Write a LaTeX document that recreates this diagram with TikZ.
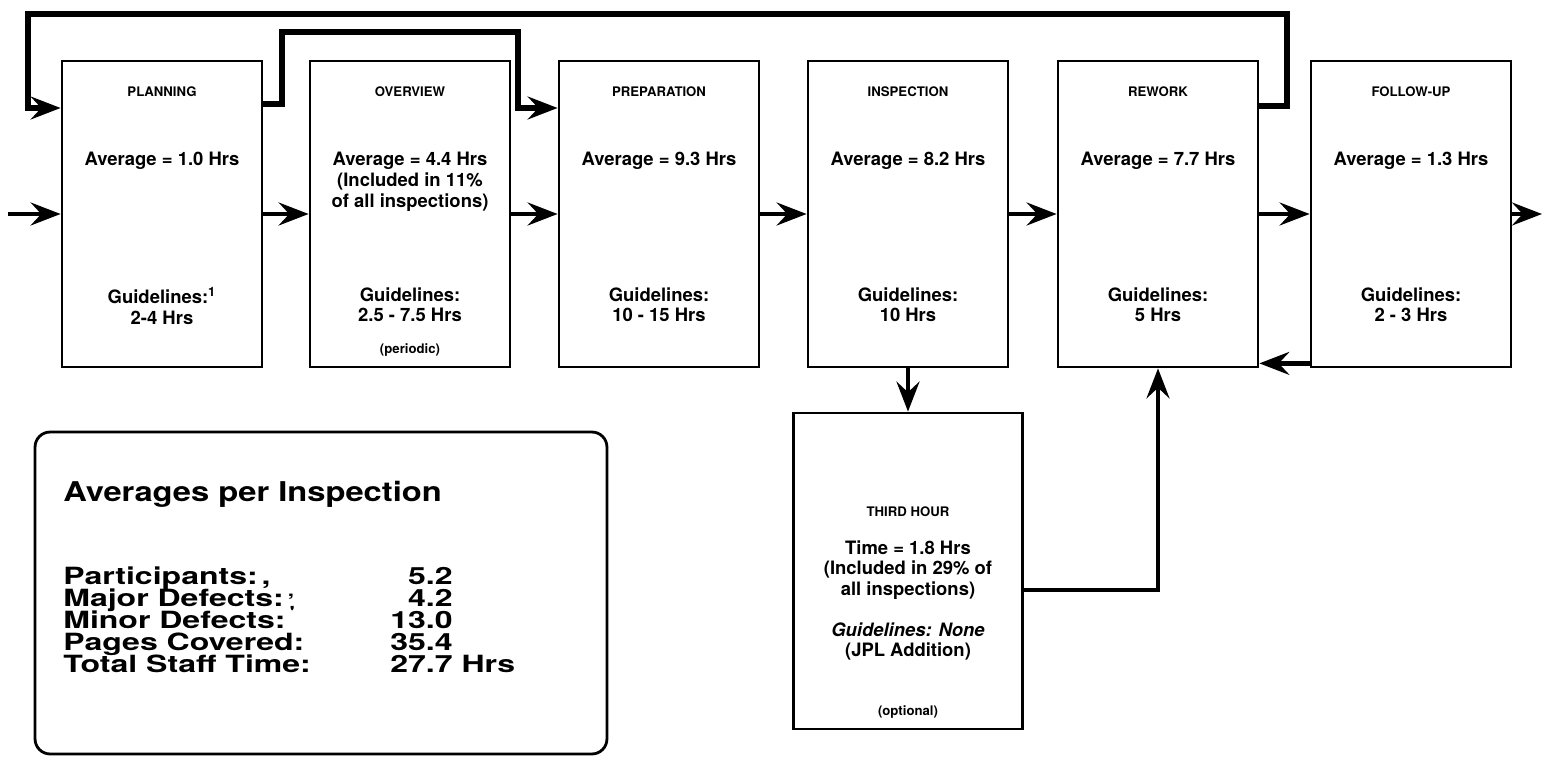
\documentclass[tikz,border=0pt]{standalone}
\usepackage{fontspec}
\setmainfont{TeX Gyre Heros}
\newfontfamily\wideheros[FakeStretch=1.2]{TeX Gyre Heros}
\newfontfamily\widerheros[FakeStretch=1.35]{TeX Gyre Heros}
\usepackage{tikz}
\usetikzlibrary{arrows.meta}

\tikzset{
  stage/.style={draw,line width=1.6pt,minimum width=4cm,minimum height=6.12cm,inner sep=0pt},
  ttl/.style={font=\fontsize{7.5}{9}\selectfont\bfseries,inner sep=0pt},
  txt/.style={font=\fontsize{10.5}{11.8}\selectfont\bfseries,align=center,anchor=north,inner sep=0pt},
  flow/.style={line width=2.8pt,-{Stealth[length=17pt,width=13pt,inset=6pt]}},
  back/.style={line width=3.4pt,-{Stealth[length=17pt,width=13pt,inset=6pt]}},
  avg/.style={font=\widerheros\fontsize{13.5}{16}\selectfont\bfseries,inner sep=0pt,anchor=base west}
}

\begin{document}
\begin{tikzpicture}[x=0.02cm,y=-0.02cm]
\useasboundingbox (0,0) rectangle (1543,757);

% the six stages
\foreach \nm/\xc/\ttl/\avg/\gd in {
  plan/162/PLANNING/{Average = 1.0 Hrs}/{Guidelines:\textsuperscript{1}\\2-4 Hrs},
  over/410/OVERVIEW/{Average = 4.4 Hrs\\(Included in 11\%\\of all inspections)}/{Guidelines:\\2.5 - 7.5 Hrs},
  prep/659/PREPARATION/{Average = 9.3 Hrs}/{Guidelines:\\10 - 15 Hrs},
  insp/908/INSPECTION/{Average = 8.2 Hrs}/{Guidelines:\\10 Hrs},
  rework/1158/REWORK/{Average = 7.7 Hrs}/{Guidelines:\\5 Hrs},
  follow/1411/FOLLOW-UP/{Average = 1.3 Hrs}/{Guidelines:\\2 - 3 Hrs}}{
  \node[stage] (\nm) at (\xc,214) {};
  \node[ttl] (\nm-t) at (\xc,92) {\ttl};
  \node[txt] (\nm-a) at (\xc,152) {\avg};
  \node[txt] (\nm-g) at (\xc,287) {\gd};
}
\node[ttl] (over-p) at (410,350) {(periodic)};

% optional third hour
\node[stage,minimum width=4.58cm,minimum height=6.32cm] (third) at (908,571) {};
\node[ttl] (third-t) at (908,512) {THIRD HOUR};
\node[txt] (third-a) at (908,540) {Time = 1.8 Hrs\\(Included in 29\% of\\all inspections)};
\node[txt] (third-g) at (908,622) {{\itshape Guidelines: None}\\(JPL Addition)};
\node[ttl] (third-o) at (908,712) {(optional)};

% main flow
\coordinate (start) at (8,214);
\coordinate (finish) at (1542,214);
\draw[flow] (start) -- (plan);
\foreach \a/\b in {plan/over,over/prep,prep/insp,insp/rework,rework/follow}
  \draw[flow] (\a) -- (\b);
\draw[flow] (follow) -- (finish);
\draw[flow] (insp) -- (third);
\draw[flow] ([yshift=-0.38cm]third.east) -| (rework.south);
\draw[flow] ([yshift=0.1cm]follow.south west) -- ([yshift=0.1cm]rework.south east);

% feedback loops
\coordinate (hiR) at (1287,14);
\coordinate (hiL) at (28,108);
\coordinate (midL) at (282,32);
\coordinate (midR) at (518,108);
\draw[back] (rework.north east) ++(0,46) -| (hiR) -| (hiL) -- (plan.west |- hiL);
\draw[back] (plan.north east) ++(0,44) -| (midL) -| (midR) -- (prep.west |- midR);

% averages
\node[draw,line width=1.6pt,rounded corners=0.3cm,minimum width=11.44cm,minimum height=6.44cm] (sumbox) at (321,593) {};
\node[avg,font=\wideheros\fontsize{15.5}{18}\selectfont\bfseries] (sum-t) at (63,501) {Averages per Inspection};
\foreach \lab/\val [count=\i from 0] in {{Participants:\,,}/5.2,{Major Defects:\,\textsuperscript{,}}/4.2,{Minor Defects:\,\textsuperscript{'}}/13.0,{Pages Covered:}/35.4,{Total Staff Time:}/{27.7\rlap{\ Hrs}}}{
  \node[avg] (lab\i) at (63,{584+22*\i}) {\lab};
  \node[avg,anchor=base east] (val\i) at (453,{584+22*\i}) {\val};
}

\end{tikzpicture}
\end{document}
